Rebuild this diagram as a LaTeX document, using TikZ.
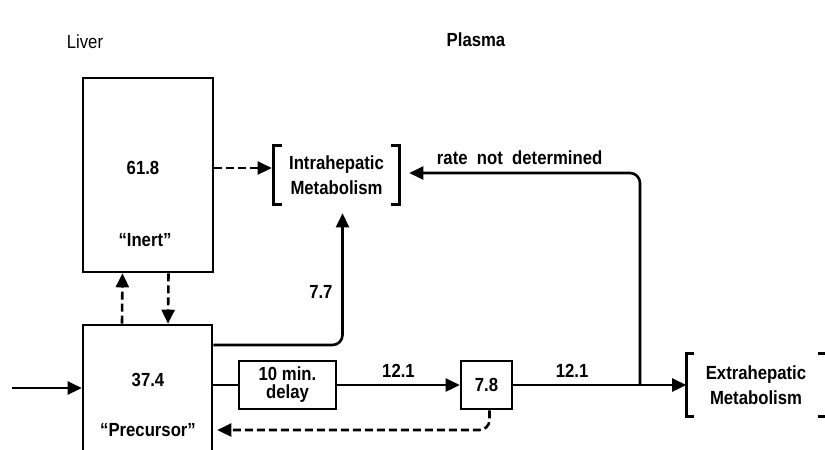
\documentclass[tikz,border=0pt]{standalone}
\usepackage{fontspec}
\setmainfont[FakeStretch=0.88]{Liberation Sans}
\usetikzlibrary{arrows.meta}

\begin{document}
\begin{tikzpicture}[x=0.5pt, y=-0.5pt, line width=1.3pt,
                    every node/.style={font=\fontsize{9.5}{12.5}\selectfont\bfseries},
                    pool/.style={draw, rectangle, inner sep=0pt},
                    bracketed/.style={inner sep=0pt, align=center},
                    flow/.style={-{Triangle[length=7pt,width=6.5pt]}},
                    dflow/.style={flow, dash pattern=on 4pt off 2pt}]
  \useasboundingbox (0,0) rectangle (825,450);
  \clip (0,0) rectangle (825,450);

  % compartments
  \node[font=\fontsize{9.5}{12.5}\selectfont] (liver) at (85,42) {Liver};
  \node (plasmahead) at (476,40) {Plasma};

  % pools
  \node[pool, minimum width=65pt, minimum height=97pt] (inert) at (148,175) {};
  \node (inertval) at (143,168) {61.8};
  \node (inertname) at (145,240) {``Inert''};
  \node[pool, minimum width=64.5pt, minimum height=75pt] (precursor) at (147.5,400) {};
  \node (precval) at (148,380) {37.4};
  \node (precname) at (148,430) {``Precursor''};
  \node[pool, minimum width=48.5pt, minimum height=24pt, align=center] (delay) at (287.5,385)
    {10 min.\\[-3.5pt]delay};
  \node[pool, minimum width=25.5pt, minimum height=24pt] (plasma) at (486.5,385) {7.8};

  % sinks
  \node[bracketed, minimum width=61.5pt, minimum height=28pt] (intra) at (336.5,175)
    {Intrahepatic\\Metabolism};
  \node[bracketed, minimum width=68.5pt, minimum height=30pt] (extra) at (756,385)
    {Extrahepatic\\Metabolism};
  \draw ([xshift=4pt]intra.north west) -| (intra.south west) -- ++(8,0);
  \draw ([xshift=-4pt]intra.north east) -| (intra.south east) -- ++(-8,0);
  \draw ([xshift=4pt]extra.north west) -| (extra.south west) -- ++(8,0);
  \draw ([xshift=-4pt]extra.north east) -| (extra.south east) -- ++(-8,0);

  % fluxes
  \coordinate (input) at (12,388);
  \draw[flow] (input) -- (input -| precursor.west);
  \draw[dflow, shorten >=1pt] ([yshift=3.5pt]inert.east) -- ([yshift=3.5pt]intra.west);
  \draw[dflow] ([xshift=-12.75pt]precursor.north) -- ([xshift=-12.75pt]inert.south);
  \draw[dflow] ([xshift=10.25pt]inert.south) -- ([xshift=10.25pt]precursor.north);
  \draw[flow, rounded corners=5pt, shorten >=4.5pt]
    ([yshift=27.5pt]precursor.east) -| ([xshift=3pt]intra.south)
    node[pos=0.69, left=1pt] {7.7};
  \draw (delay.west -| precursor.east) -- (delay.west);
  \draw[flow] (delay.east) -- (plasma.west)
    node[midway, above=0pt] {12.1};
  \draw[flow] (plasma.east) -- (extra.west)
    node[pos=0.34, above=0pt] {12.1};
  \coordinate (branch) at (640,385);
  \draw[flow, rounded corners=5pt, shorten >=5pt] (branch) |- ([yshift=1pt]intra.east)
    node[pos=0.75, above=0pt] {rate\ \ not\ \ determined};
  \draw[dflow, rounded corners=5pt, shorten >=2pt]
    ([xshift=1.5pt]plasma.south) |- ([yshift=-15pt]precursor.east);
\end{tikzpicture}
\end{document}
